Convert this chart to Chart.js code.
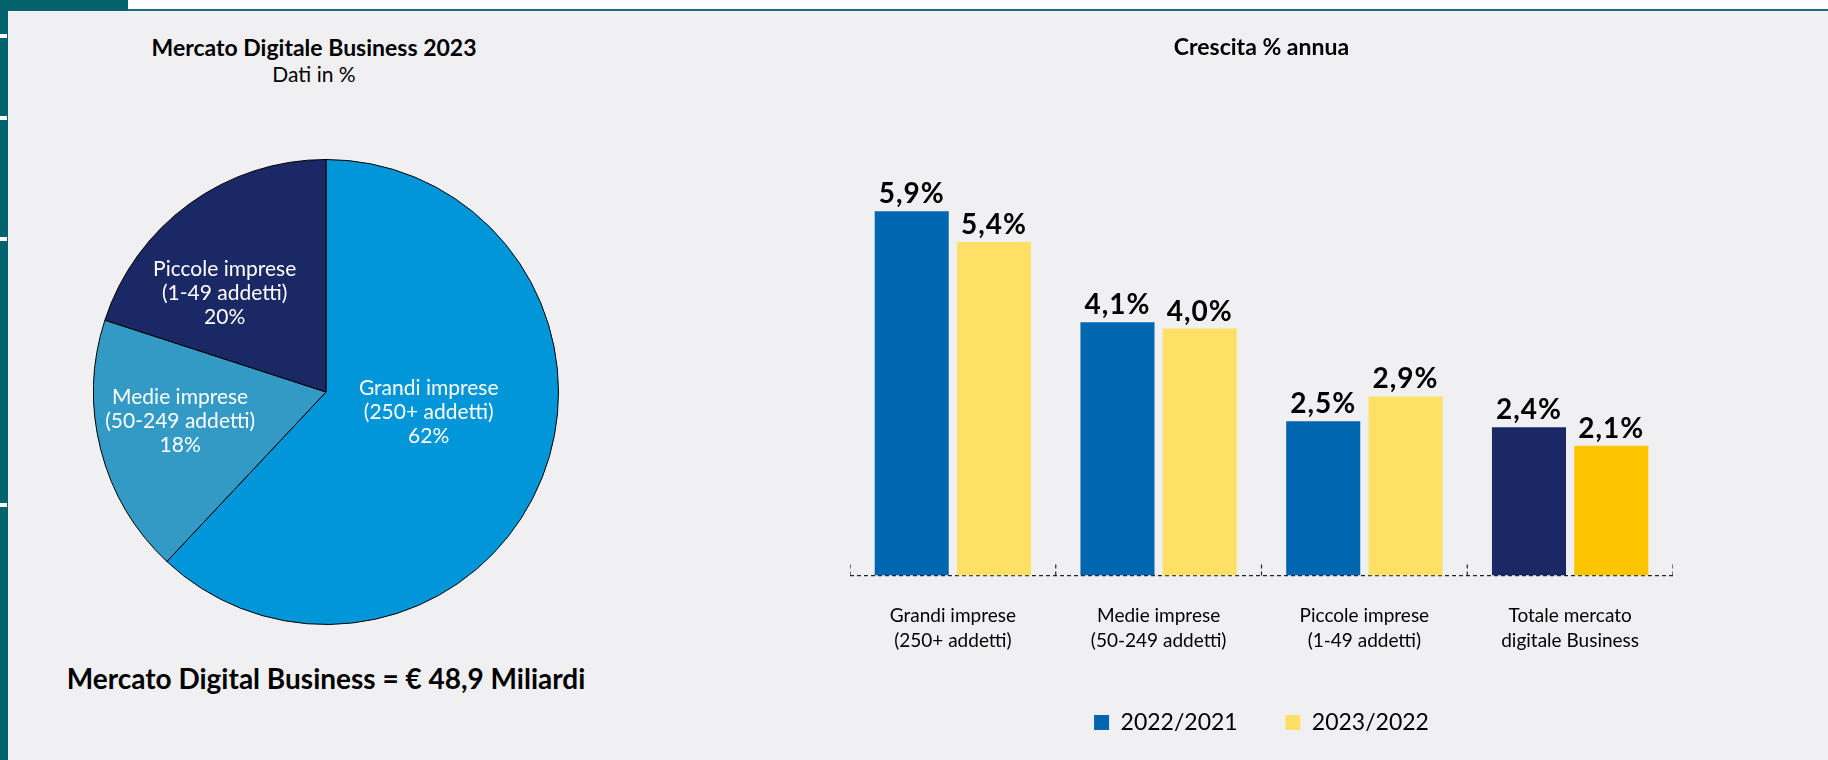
<!DOCTYPE html>
<html>
<head>
<meta charset="utf-8">
<script src="https://cdn.jsdelivr.net/npm/chart.js@4"></script>
<style>
  html, body { margin: 0; padding: 0; }
  body { width: 1828px; height: 760px; background: #f0f0f2; position: relative; overflow: hidden; font-family: Lato, sans-serif; }
  #topband { position: absolute; left: 0; top: 0; width: 1828px; height: 9px; background: #fff; border-bottom: 2px solid #17707a; }
  #corner { position: absolute; left: 0; top: 0; width: 128px; height: 11px; background: #03636d; }
  #strip { position: absolute; left: 0; top: 0; width: 8px; height: 760px; background: #03636d; }
  .mark { position: absolute; left: 0; width: 7px; height: 4px; background: #fff; }
  .txt { position: absolute; text-align: center; color: #000; white-space: nowrap; }
  #pieTitle { left: 114px; width: 400px; top: 33px; font-weight: bold; font-size: 23px; }
  #pieSub { left: 114px; width: 400px; top: 61px; font-size: 21px; }
  #total { left: 26px; width: 600px; top: 661px; font-weight: bold; font-size: 28px; }
  #pieBox { position: absolute; left: 93px; top: 159px; width: 466px; height: 466px; }
  #barBox { position: absolute; left: 850px; top: 10px; width: 823px; height: 736px; }
</style>
</head>
<body>
<div id="topband"></div>
<div id="corner"></div>
<div id="strip"></div>
<div class="mark" style="top:34px"></div>
<div class="mark" style="top:116px"></div>
<div class="mark" style="top:237px"></div>
<div class="mark" style="top:503px"></div>

<div id="pieTitle" class="txt">Mercato Digitale Business 2023</div>
<div id="pieSub" class="txt">Dati in %</div>
<div id="total" class="txt">Mercato Digital Business = € 48,9 Miliardi</div>

<div id="pieBox"><canvas id="pieChart"></canvas></div>
<div id="barBox"><canvas id="barChart"></canvas></div>

<script>
// pie data
var pieCategories = [['Grandi imprese', '(250+ addetti)'], ['Medie imprese', '(50-249 addetti)'], ['Piccole imprese', '(1-49 addetti)']];
var pieValues = [62, 18, 20];
var pieColors = ['#0096d8', '#3399c5', '#1a2866'];

// bar data
var barCategories = [['Grandi imprese', '(250+ addetti)'], ['Medie imprese', '(50-249 addetti)'], ['Piccole imprese', '(1-49 addetti)'], ['Totale mercato', 'digitale Business']];
var seriesNames = ['2022/2021', '2023/2022'];
var growth2022 = [5.9, 4.1, 2.5, 2.4];
var growth2023 = [5.4, 4.0, 2.9, 2.1];

// label placement inside slices: shift of angle (deg) and fraction of radius
var pieLabelPlace = [{da: -10.6, k: 0.45}, {da: 3, k: 0.64}, {da: -9.6, k: 0.61}];

var pieLabels = {
  id: 'pieLabels',
  afterDatasetsDraw: function(chart) {
    var ctx = chart.ctx;
    var meta = chart.getDatasetMeta(0);
    ctx.save();
    ctx.fillStyle = '#fff';
    ctx.font = '21px Lato';
    ctx.textAlign = 'center';
    ctx.textBaseline = 'middle';
    meta.data.forEach(function(arc, i) {
      var p = arc.getProps(['x', 'y', 'startAngle', 'endAngle', 'outerRadius']);
      var place = pieLabelPlace[i];
      var mid = (p.startAngle + p.endAngle) / 2 + place.da * Math.PI / 180;
      var x = p.x + Math.cos(mid) * p.outerRadius * place.k;
      var y = p.y + Math.sin(mid) * p.outerRadius * place.k;
      var lines = pieCategories[i].concat([pieValues[i] + '%']);
      lines.forEach(function(t, j) {
        ctx.fillText(t, x, y + (j - 1) * 24);
      });
    });
    ctx.restore();
  }
};

new Chart(document.getElementById('pieChart'), {
  type: 'pie',
  data: {
    labels: pieCategories.map(function(c) { return c.join(' '); }),
    datasets: [{
      data: pieValues,
      backgroundColor: pieColors,
      borderColor: '#000',
      borderWidth: 1
    }]
  },
  options: {
    responsive: true,
    maintainAspectRatio: false,
    animation: false,
    plugins: { legend: { display: false }, tooltip: { enabled: false } }
  },
  plugins: [pieLabels]
});

// dashed baseline with small upward ticks between the groups
var baseline = {
  id: 'baseline',
  beforeDatasetsDraw: function(chart) {
    var ctx = chart.ctx;
    var xs = chart.scales.x, ys = chart.scales.y;
    var y0 = ys.getPixelForValue(0);
    var left = xs.getPixelForValue(-0.5), right = xs.getPixelForValue(barCategories.length - 0.5);
    ctx.save();
    ctx.strokeStyle = '#222';
    ctx.lineWidth = 1.2;
    ctx.setLineDash([4, 3]);
    ctx.beginPath();
    ctx.moveTo(left, y0);
    ctx.lineTo(right, y0);
    for (var i = 0; i <= barCategories.length; i++) {
      var x = xs.getPixelForValue(i - 0.5);
      ctx.moveTo(x, y0);
      ctx.lineTo(x, y0 - 13);
    }
    ctx.stroke();
    ctx.restore();
  }
};

var valueLabels = {
  id: 'valueLabels',
  afterDatasetsDraw: function(chart) {
    var ctx = chart.ctx;
    ctx.save();
    ctx.fillStyle = '#000';
    ctx.font = 'bold 28px Lato';
    ctx.letterSpacing = '1px';
    ctx.textAlign = 'center';
    ctx.textBaseline = 'alphabetic';
    chart.data.datasets.forEach(function(ds, d) {
      chart.getDatasetMeta(d).data.forEach(function(bar, i) {
        var t = ds.data[i].toFixed(1).replace('.', ',') + '%';
        ctx.fillText(t, bar.x, bar.y - 8);
      });
    });
    ctx.restore();
  }
};

new Chart(document.getElementById('barChart'), {
  type: 'bar',
  data: {
    labels: barCategories,
    datasets: [{
      label: seriesNames[0],
      data: growth2022,
      backgroundColor: ['#0066b0', '#0066b0', '#0066b0', '#1a2866']
    }, {
      label: seriesNames[1],
      data: growth2023,
      backgroundColor: ['#ffe066', '#ffe066', '#ffe066', '#fdc500']
    }]
  },
  options: {
    responsive: true,
    maintainAspectRatio: false,
    animation: false,
    categoryPercentage: 0.8,
    barPercentage: 0.9,
    layout: { padding: { left: 0, right: 0, top: 0, bottom: 2 } },
    scales: {
      x: {
        grid: { display: false, drawTicks: false },
        border: { display: false },
        ticks: { color: '#000', font: { family: 'Lato', size: 19, lineHeight: 1.3 }, padding: 28, maxRotation: 0, autoSkip: false }
      },
      y: { display: false, min: 0, max: 6.2 }
    },
    plugins: {
      title: {
        display: true,
        text: 'Crescita % annua',
        color: '#000',
        font: { family: 'Lato', size: 23, weight: 'bold', lineHeight: 1.2 },
        padding: { top: 24, bottom: 131 }
      },
      legend: {
        position: 'bottom',
        labels: {
          color: '#000', boxWidth: 15, boxHeight: 15, padding: 30,
          font: { family: 'Lato', size: 23 },
          generateLabels: function(chart) {
            var items = Chart.defaults.plugins.legend.labels.generateLabels(chart);
            items.forEach(function(it, i) { if (i < items.length - 1) it.text += '   '; });
            return items;
          }
        }
      },
      tooltip: { enabled: false }
    }
  },
  plugins: [baseline, valueLabels]
});
</script>
</body>
</html>
